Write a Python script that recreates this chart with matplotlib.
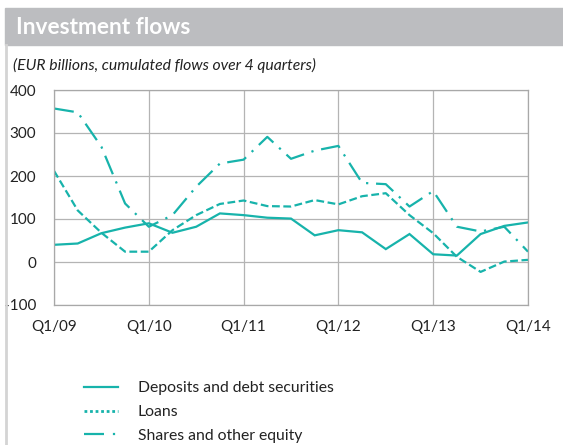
import matplotlib
matplotlib.use("Agg")
import matplotlib.pyplot as plt
from matplotlib.lines import Line2D
from matplotlib.patches import Rectangle

plt.rcParams['font.family'] = ['Lato', 'DejaVu Sans']

quarters = list(range(21))  # Q1/09 .. Q1/14
tick_labels = ["Q1/09", "Q1/10", "Q1/11", "Q1/12", "Q1/13", "Q1/14"]
deposits = [40, 43, 67, 80, 90, 68, 82, 113, 109, 103, 101, 62, 74, 69, 30,
            65, 18, 15, 65, 84, 92]
loans = [212, 120, 68, 24, 24, 74, 109, 135, 143, 130, 129, 144, 134, 153, 160,
         109, 67, 12, -23, 1, 5]
shares = [357, 348, 268, 136, 82, 109, 175, 229, 238, 291, 240, 259, 270, 184,
          181, 129, 165, 82, 71, 82, 24]

teal = "#17b3ab"
W, H = 563, 445
fig = plt.figure(figsize=(W / 100, H / 100), dpi=100)

# header band and left rule
fig.patches.append(Rectangle((5 / W, 1 - 45 / H), 1 - 5 / W, 37 / H,
                             transform=fig.transFigure, color="#bcbdc0", zorder=0))
fig.add_artist(Line2D([5.5 / W, 5.5 / W], [0, 1 - 45 / H], color="#d4d4d4",
                      lw=2, transform=fig.transFigure))
fig.text(16 / W, 1 - 27 / H, "Investment flows", color="white",
         fontsize=16.3, fontweight="bold", va="center", ha="left")
fig.text(13 / W, 1 - 65 / H, "(EUR billions, cumulated flows over 4 quarters)",
         color="#222222", fontsize=11.3, style="italic", va="center", ha="left")

ax = fig.add_axes([54 / W, 1 - 305 / H, (528 - 54) / W, (305 - 90) / H])
l1, = ax.plot(quarters, deposits, color=teal, lw=1.6, solid_joinstyle="miter")
l2, = ax.plot(quarters, loans, color=teal, lw=1.6, linestyle=(0, (3.5, 1.6)))
l3, = ax.plot(quarters, shares, color=teal, lw=1.6, linestyle=(0, (9, 3.5, 1, 3.5)))

ax.set_xlim(0, 20)
ax.set_ylim(-100, 400)
ax.set_yticks([-100, 0, 100, 200, 300, 400])
ax.set_yticklabels(["-100", "0", "100", "200", "300", "400"])
ax.set_xticks([0, 4, 8, 12, 16, 20])
ax.set_xticklabels(tick_labels)
ax.tick_params(axis="both", length=0, labelsize=11, labelcolor="#222222")
ax.tick_params(axis="y", pad=13)
ax.tick_params(axis="x", pad=11)
ax.grid(True, color="#b4b4b4", lw=0.9)
ax.set_axisbelow(True)
for s in ax.spines.values():
    s.set_color("#a8a8a8")
    s.set_linewidth(0.9)

handles = [Line2D([], [], color=teal, lw=1.6),
           Line2D([], [], color=teal, lw=2, linestyle=(0, (1, 1))),
           Line2D([], [], color=teal, lw=1.6, linestyle=(0, (9, 4, 1, 4)))]
fig.legend(handles, ["Deposits and debt securities", "Loans",
                     "Shares and other equity"],
           loc="upper left", bbox_to_anchor=(78 / W, 1 - 375 / H),
           frameon=False, fontsize=11.3, handlelength=2.15, handletextpad=1.25,
           labelspacing=0.62, labelcolor="#222222", borderaxespad=0)

fig.savefig("out.png", dpi=100)
